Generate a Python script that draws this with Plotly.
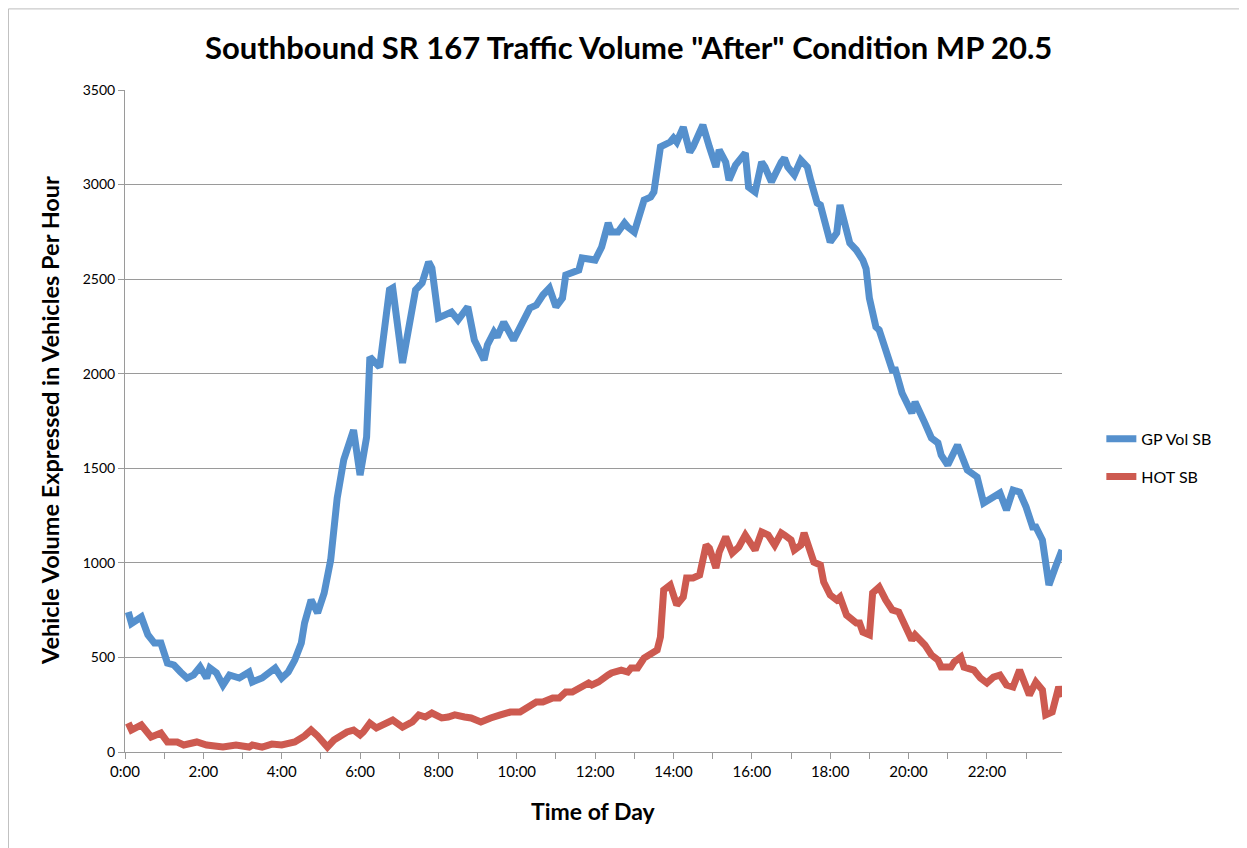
import plotly.graph_objects as go

# Minutes after midnight (5-minute readings)
gp_minutes = [5, 10, 25, 35, 45, 55, 65, 75, 85, 95, 105, 115, 125, 130, 140, 150, 160, 175, 190, 195,
              210, 220, 230, 240, 250, 260, 270, 275, 285, 295, 305, 315, 325, 335, 350, 360, 370, 375,
              390, 405, 410, 425, 440, 445, 455, 465, 470, 480, 500, 510, 525, 535, 550, 555, 565, 570,
              580, 595, 620, 630, 640, 650, 660, 670, 675, 695, 700, 720, 730, 740, 745, 755, 765, 770,
              780, 785, 795, 805, 810, 820, 835, 840, 845, 855, 865, 870, 885, 895, 905, 910, 920, 925,
              935, 950, 955, 965, 975, 980, 990, 1005, 1010, 1015, 1025, 1035, 1045, 1050, 1060, 1065,
              1080, 1090, 1095, 1110, 1120, 1130, 1135, 1140, 1150, 1155, 1175, 1180, 1190, 1205, 1210,
              1225, 1235, 1245, 1250, 1260, 1275, 1290, 1305, 1315, 1330, 1340, 1350, 1360, 1370, 1380,
              1390, 1395, 1405, 1415, 1425, 1435]
gp_vol = [740, 680, 714, 620, 576, 576, 470, 460, 423, 391, 407, 450, 391, 444, 418, 354, 407, 391, 423, 370,
          391, 423, 444, 391, 423, 486, 576, 682, 804, 735, 840, 1015, 1343, 1544, 1702, 1464, 1665, 2088,
          2035, 2443, 2453, 2057, 2390, 2443, 2480, 2591, 2559, 2295, 2326, 2284, 2353, 2178, 2073, 2152, 2220, 2194,
          2273, 2178, 2347, 2363, 2416, 2453, 2353, 2400, 2522, 2548, 2612, 2601, 2670, 2797, 2749, 2749, 2797, 2776,
          2749, 2797, 2918, 2934, 2961, 3199, 3225, 3246, 3225, 3304, 3172, 3199, 3315, 3199, 3093, 3183, 3119, 3024,
          3103, 3167, 2987, 2961, 3119, 3093, 3014, 3119, 3140, 3093, 3051, 3130, 3093, 3024, 2903, 2892,
          2696, 2744, 2892, 2691, 2654, 2601, 2555, 2400, 2247, 2231, 2020, 2020, 1898, 1792, 1850,
          1739, 1660, 1634, 1570, 1517, 1623, 1491, 1454, 1316, 1348, 1369, 1279, 1385, 1374, 1295,
          1190, 1190, 1121, 883, 978, 1068]

hot_minutes = [5, 10, 25, 40, 55, 65, 80, 90, 110, 125, 150, 170, 190, 195, 210, 225, 240, 260, 275, 285,
               295, 310, 320, 330, 340, 350, 360, 365, 375, 385, 395, 410, 425, 435, 440, 450, 460, 470,
               485, 495, 505, 520, 530, 545, 555, 560, 575, 590, 605, 615, 630, 640, 655, 665, 675, 685,
               700, 710, 715, 725, 740, 745, 760, 770, 775, 785, 795, 805, 815, 820, 825, 835, 845, 855,
               860, 870, 880, 890, 895, 905, 910, 920, 930, 940, 950, 960, 965, 975, 985, 995, 1005, 1010,
               1020, 1025, 1035, 1040, 1045, 1055, 1065, 1070, 1080, 1090, 1095, 1105, 1120, 1125, 1130,
               1140, 1145, 1155, 1165, 1175, 1185, 1195, 1205, 1210, 1225, 1235, 1245, 1250, 1265, 1270,
               1280, 1285, 1300, 1310, 1320, 1330, 1340, 1350, 1360, 1370, 1380, 1385, 1395, 1405, 1410,
               1420, 1430, 1435]
hot_vol = [153, 116, 143, 79, 100, 53, 53, 37, 53, 37, 26, 37, 26, 37, 26, 42, 37, 53, 85, 116,
           85, 26, 63, 90, 106, 116, 90, 106, 153, 127, 143, 169, 132, 153, 159, 196, 185, 206,
           180, 185, 196, 185, 180, 159, 180, 180, 196, 211, 211, 233, 264, 264, 285, 285, 317, 317,
           344, 365, 354, 370, 407, 418, 433, 423, 444, 444, 497, 523, 539, 608, 856, 883, 777, 819,
           920, 920, 936, 1094, 1078, 973, 1057, 1137, 1052, 1084, 1147, 1094, 1068, 1163, 1147, 1094, 1158, 1147,
           1121, 1068, 1094, 1158, 1110, 1004, 989, 899, 830, 804, 819, 724, 682, 682, 634,
           619, 841, 872, 804, 751, 740, 655, 592, 619, 566, 513, 486, 449, 449, 476,
           502, 449, 433, 391, 365, 396, 407, 354, 344, 433, 338, 301, 370, 328, 196,
           211, 344, 291]

tick_minutes = [0, 120, 240, 360, 480, 600, 720, 840, 960, 1080, 1200, 1320]
tick_labels = ["0:00", "2:00", "4:00", "6:00", "8:00", "10:00", "12:00", "14:00", "16:00", "18:00", "20:00", "22:00"]

FONT = "Lato"
BLUE = "#5590CD"
RED = "#CD5A50"
GRID = "#9a9a9a"

fig = go.Figure()
fig.add_trace(go.Scatter(x=gp_minutes, y=gp_vol, mode="lines", name="GP Vol SB",
                         line=dict(color=BLUE, width=7), legend="legend"))
fig.add_trace(go.Scatter(x=hot_minutes, y=hot_vol, mode="lines", name="HOT SB",
                         line=dict(color=RED, width=7), legend="legend2"))

fig.update_layout(
    width=1239, height=840,
    margin=dict(l=117, r=185, t=82, b=96),
    paper_bgcolor="white", plot_bgcolor="white",
    font=dict(family=FONT, color="black", size=14),
    showlegend=True,
    legend=dict(x=1.042, y=0.473, xanchor="left", yanchor="middle",
                font=dict(family=FONT, size=16), bgcolor="rgba(0,0,0,0)"),
    legend2=dict(x=1.042, y=0.416, xanchor="left", yanchor="middle",
                 font=dict(family=FONT, size=16), bgcolor="rgba(0,0,0,0)"),
    xaxis=dict(range=[0, 1435], tickvals=tick_minutes, ticktext=tick_labels,
               showgrid=False, zeroline=False, showline=True, linecolor=GRID, linewidth=1,
               ticks="outside", ticklen=6, tickcolor=GRID, tickfont=dict(size=15),
               minor=dict(tickvals=list(range(60, 1440, 120)), ticks="outside", ticklen=6, tickcolor=GRID)),
    yaxis=dict(range=[0, 3500], dtick=500, showgrid=True, gridcolor=GRID, gridwidth=1,
               zeroline=False, showline=True, linecolor=GRID, linewidth=1,
               ticks="outside", ticklen=6, tickcolor=GRID, tickfont=dict(size=14)),
    annotations=[
        dict(text="Southbound SR 167 Traffic Volume \"After\" Condition MP 20.5",
             xref="paper", yref="paper", x=0.537, y=1.065, xanchor="center", yanchor="middle",
             showarrow=False, font=dict(family=FONT, size=31, color="black", weight="bold")),
        dict(text="Vehicle Volume Expressed in Vehicles Per Hour",
             xref="paper", yref="paper", x=-0.080, y=0.5, xanchor="center", yanchor="middle",
             textangle=-90, showarrow=False, font=dict(family=FONT, size=23.5, color="black", weight="bold")),
        dict(text="Time of Day",
             xref="paper", yref="paper", x=0.5, y=-0.089, xanchor="center", yanchor="middle",
             showarrow=False, font=dict(family=FONT, size=23, color="black", weight="bold")),
    ],
    shapes=[dict(type="rect", xref="paper", yref="paper", x0=-0.1244, x1=1.1953, y0=-0.2, y1=1.1225,
                 line=dict(color="#bdbdbd", width=1), fillcolor="rgba(0,0,0,0)", layer="below")],
)

fig.write_html("out.html")
